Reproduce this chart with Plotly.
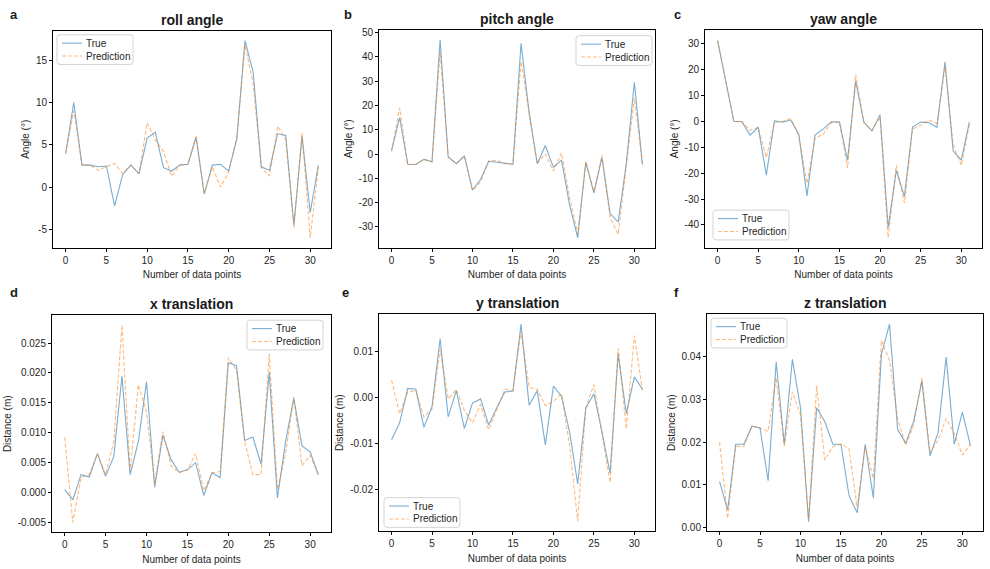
import plotly.graph_objects as go

W, H = 990, 569
x_idx = list(range(32))

roll_true = [4.0, 10.0, 2.6, 2.6, 2.4, 2.5, -2.2, 1.5, 2.6, 1.6, 5.8, 6.5, 2.3, 1.9, 2.6, 2.7,
             5.9, -0.8, 2.6, 2.7, 1.9, 5.7, 17.3, 13.6, 2.4, 2.0, 6.3, 6.1, -4.5, 6.0, -3.0, 2.6]
roll_pred = [3.9, 9.0, 2.6, 2.6, 2.0, 2.4, 2.8, 1.6, 2.6, 1.6, 7.6, 5.6, 4.2, 1.3, 2.6, 2.7,
             6.0, -0.8, 2.4, 0.0, 1.8, 6.0, 16.8, 12.2, 2.3, 1.3, 7.2, 5.6, -4.8, 6.4, -6.0, 2.4]

pitch_true = [1.5, 15, -4.2, -4.3, -2.2, -3.2, 47, -1.2, -4, -0.8, -14.8, -10.5, -3, -3.5, -4, -4.2,
              45.5, 17, -4, 3.5, -5.5, -2.5, -21, -34.5, -3.5, -16, -1.5, -24.5, -28, -4, 29.5, -4.3]
pitch_pred = [1, 19, -4.2, -4.3, -2.2, -3.2, 42, -1.2, -4, -0.8, -15, -11.5, -3, -2.5, -4, -4.2,
              38, 16, -4, 0, -7, 0.5, -18, -33, -3, -15.5, -0.5, -26, -33, -5, 23, -4.3]

yaw_true = [31, 15, 0, -0.2, -5.3, -2.3, -20.8, 0.2, -0.3, 0.5, -5, -28.8, -5.3, -3, -0.2, -0.3,
            -15, 15.5, -0.3, -3.7, 2.5, -41, -19, -29, -2.2, -0.3, -0.5, -2.3, 23, -11.5, -15, -0.2]
yaw_pred = [31.5, 16, 0, -0.2, -3.5, -2.3, -14, -0.5, 0, 1, -5.5, -24, -6.5, -5, -0.5, -0.3,
            -18, 18, -0.5, -3.7, 1.5, -45, -17, -31.5, -3, -1.5, 0.5, -0.8, 21, -9, -17, -1]

xt_true = [0.0005, -0.0012, 0.003, 0.0026, 0.0065, 0.0027, 0.006, 0.0195, 0.003, 0.0085, 0.0185,
           0.0009, 0.0096, 0.0055, 0.0034, 0.0038, 0.005, -0.0005, 0.0033, 0.0025, 0.0217, 0.0212,
           0.0087, 0.0093, 0.0047, 0.0201, -0.0009, 0.0085, 0.0158, 0.0078, 0.0068, 0.003]
xt_pred = [0.0092, -0.005, 0.0025, 0.003, 0.0065, 0.003, 0.0085, 0.028, 0.0035, 0.018, 0.0135,
           0.0015, 0.0102, 0.0045, 0.0033, 0.0038, 0.0065, 0.0003, 0.0033, 0.0035, 0.0225, 0.0205,
           0.0085, 0.003, 0.003, 0.0232, 0.0005, 0.0065, 0.016, 0.0045, 0.0062, 0.003]

yt_true = [-0.0092, -0.0055, 0.002, 0.0018, -0.0065, -0.002, 0.0128, -0.0042, 0.0015, -0.0067,
           -0.0012, -0.0003, -0.006, -0.0022, 0.0012, 0.0014, 0.016, -0.0017, 0.0015, -0.0103,
           0.0025, 0.0003, -0.0075, -0.0188, -0.0023, 0.0008, -0.0075, -0.0165, 0.0095, -0.0035,
           0.0045, 0.0018]
yt_pred = [0.0038, -0.0035, 0.0012, 0.0015, -0.0042, -0.0025, 0.0105, -0.0003, 0.0017, -0.0028,
           -0.0055, -0.0015, -0.007, -0.0025, 0.0018, 0.0015, 0.0145, 0.0022, 0.0018, -0.0018,
           -0.0008, 0.0008, -0.0105, -0.027, -0.0022, 0.0028, -0.008, -0.0185, 0.0108, -0.0068,
           0.0135, 0.0015]

zt_true = [0.0108, 0.0042, 0.0195, 0.0195, 0.0237, 0.0233, 0.011, 0.0387, 0.0195, 0.0393, 0.028,
           0.0015, 0.028, 0.0248, 0.0195, 0.0195, 0.0075, 0.0035, 0.0195, 0.007, 0.0405, 0.0475,
           0.023, 0.0197, 0.025, 0.0342, 0.0168, 0.0222, 0.0398, 0.0195, 0.027, 0.0192]
zt_pred = [0.02, 0.0022, 0.019, 0.019, 0.0237, 0.0233, 0.0225, 0.035, 0.019, 0.0317, 0.0265,
           0.0015, 0.0332, 0.0158, 0.019, 0.0195, 0.0185, 0.0047, 0.019, 0.0115, 0.0437, 0.039,
           0.0255, 0.0193, 0.024, 0.035, 0.0175, 0.0205, 0.0255, 0.022, 0.017, 0.0195]

x_ticks = [0, 5, 10, 15, 20, 25, 30]
roll_ticks = [-5, 0, 5, 10, 15]
roll_ticktext = ["-5", "0", "5", "10", "15"]
pitch_ticks = [-30, -20, -10, 0, 10, 20, 30, 40, 50]
pitch_ticktext = ["-30", "-20", "-10", "0", "10", "20", "30", "40", "50"]
yaw_ticks = [-40, -30, -20, -10, 0, 10, 20, 30]
yaw_ticktext = ["-40", "-30", "-20", "-10", "0", "10", "20", "30"]
xt_ticks = [-0.005, 0.0, 0.005, 0.010, 0.015, 0.020, 0.025]
xt_ticktext = ["-0.005", "0.000", "0.005", "0.010", "0.015", "0.020", "0.025"]
yt_ticks = [-0.02, -0.01, 0.0, 0.01]
yt_ticktext = ["-0.02", "-0.01", "0.00", "0.01"]
zt_ticks = [0.0, 0.01, 0.02, 0.03, 0.04]
zt_ticktext = ["0.00", "0.01", "0.02", "0.03", "0.04"]

titles = ["roll angle", "pitch angle", "yaw angle", "x translation", "y translation", "z translation"]
letters = ["a", "b", "c", "d", "e", "f"]
ylabels = ["Angle (°)", "Angle (°)", "Angle (°)", "Distance (m)", "Distance (m)", "Distance (m)"]
series_names = ["True", "Prediction"]

panels = [
    (roll_true, roll_pred, roll_ticks, roll_ticktext),
    (pitch_true, pitch_pred, pitch_ticks, pitch_ticktext),
    (yaw_true, yaw_pred, yaw_ticks, yaw_ticktext),
    (xt_true, xt_pred, xt_ticks, xt_ticktext),
    (yt_true, yt_pred, yt_ticks, yt_ticktext),
    (zt_true, zt_pred, zt_ticks, zt_ticktext),
]

# pixel boxes of each axes frame: left, right, top, bottom
boxes = [(53, 331, 28, 247), (379, 655, 27, 247), (705, 982, 27, 247),
         (52, 331, 315, 534), (379, 655, 314, 533), (707, 983, 314, 533)]
# legend box top-left in px
leg_pos = [(57, 32), (576, 33), (713, 209), (247, 320), (384, 499), (711, 318)]
letter_pos = [(8, 12), (342, 12), (672, 12), (8, 292), (340, 292), (672, 292)]
LEG_W, LEG_H = 76, 30

BLUE = "rgba(31,119,180,0.6)"
ORANGE = "rgba(255,127,14,0.55)"
DASH = "4px,2px"
FONT = "Liberation Sans, Arial, Helvetica, sans-serif"
TXT = "#262626"

fig = go.Figure()
annotations = []
shapes = []
layout = dict(width=W, height=H, margin=dict(l=0, r=0, t=0, b=0),
              paper_bgcolor="white", plot_bgcolor="white", showlegend=False,
              font=dict(family=FONT, size=10, color=TXT))


def px2x(p):
    return p / W


def px2y(p):
    return 1 - p / H


def rounded_rect(x0, y0, x1, y1, r=3):
    rx, ry = r / W, r / H
    X0, X1 = px2x(x0), px2x(x1)
    Y0, Y1 = px2y(y0), px2y(y1)  # Y0 top (larger), Y1 bottom
    return (f"M {X0+rx},{Y0} L {X1-rx},{Y0} Q {X1},{Y0} {X1},{Y0-ry} "
            f"L {X1},{Y1+ry} Q {X1},{Y1} {X1-rx},{Y1} L {X0+rx},{Y1} "
            f"Q {X0},{Y1} {X0},{Y1+ry} L {X0},{Y0-ry} Q {X0},{Y0} {X0+rx},{Y0} Z")


for k, (tr, pr, tv, tt) in enumerate(panels):
    n = "" if k == 0 else str(k + 1)
    xa, ya = "x" + n, "y" + n
    fig.add_trace(go.Scatter(x=x_idx, y=tr, mode="lines", name=series_names[0],
                             line=dict(color=BLUE, width=1.1), xaxis=xa, yaxis=ya))
    fig.add_trace(go.Scatter(x=x_idx, y=pr, mode="lines", name=series_names[1],
                             line=dict(color=ORANGE, width=1.1, dash=DASH),
                             xaxis=xa, yaxis=ya))
    lo = min(min(tr), min(pr))
    hi = max(max(tr), max(pr))
    m = (hi - lo) * 0.05
    l, r, t, b = boxes[k]
    common = dict(showgrid=False, zeroline=False, showline=True, linecolor="black", linewidth=1,
                  mirror=True, ticks="outside", ticklen=3, tickwidth=1, tickcolor="black",
                  tickfont=dict(size=10, color=TXT, family=FONT))
    layout["xaxis" + n] = dict(common, domain=[px2x(l), px2x(r)], anchor=ya, range=[-1.55, 32.55],
                               tickvals=x_ticks,
                               title=dict(text="Number of data points", font=dict(size=10, color=TXT),
                                          standoff=6))
    layout["yaxis" + n] = dict(common, domain=[px2y(b), px2y(t)], anchor=xa, range=[lo - m, hi + m],
                               tickvals=tv, ticktext=tt,
                               title=dict(text=ylabels[k], font=dict(size=10, color=TXT), standoff=4))
    # title and panel letter
    annotations.append(dict(text="<b>" + titles[k] + "</b>", x=(l + r) / 2 / W,
                            y=px2y(t - 1), xref="paper", yref="paper", showarrow=False,
                            xanchor="center", yanchor="bottom",
                            font=dict(size=14, color="#1a1a1a", family=FONT)))
    lxp, lyp = letter_pos[k]
    annotations.append(dict(text="<b>" + letters[k] + "</b>", x=px2x(lxp), y=px2y(lyp),
                            xref="paper", yref="paper", showarrow=False,
                            xanchor="left", yanchor="middle",
                            font=dict(size=13, color="#1a1a1a", family=FONT)))
    # legend box
    gx, gy = leg_pos[k]
    shapes.append(dict(type="path", path=rounded_rect(gx, gy, gx + LEG_W, gy + LEG_H),
                       xref="paper", yref="paper", fillcolor="rgba(255,255,255,0.85)",
                       line=dict(color="#d4d4d4", width=1), layer="above"))
    for j, (nm, col, dash) in enumerate([(series_names[0], BLUE, "solid"),
                                          (series_names[1], ORANGE, DASH)]):
        yy = gy + 8.5 + j * 13
        shapes.append(dict(type="line", x0=px2x(gx + 5), x1=px2x(gx + 25), y0=px2y(yy), y1=px2y(yy),
                           xref="paper", yref="paper", line=dict(color=col, width=1.1, dash=dash),
                           layer="above"))
        annotations.append(dict(text=nm, x=px2x(gx + 27), y=px2y(yy), xref="paper", yref="paper",
                                showarrow=False, xanchor="left", yanchor="middle",
                                font=dict(size=10, color=TXT, family=FONT)))

layout["annotations"] = annotations
layout["shapes"] = shapes
fig.update_layout(**layout)
fig.write_html("out.html")
